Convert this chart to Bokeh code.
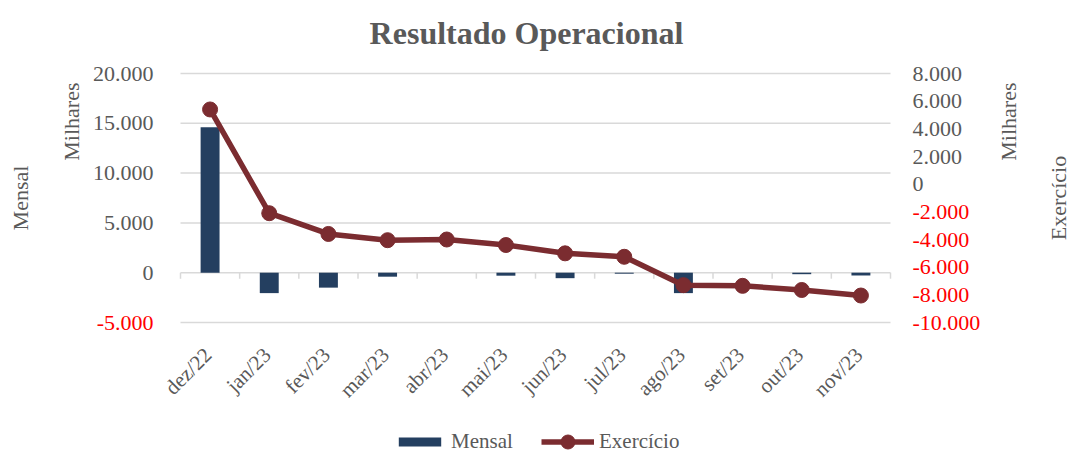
from math import pi
from bokeh.plotting import figure
from bokeh.models import Range1d, Legend, LegendItem
from bokeh.core.properties import value
from bokeh.embed import file_html
from bokeh.resources import INLINE

# ---- data ----
titulo = "Resultado Operacional"
meses = ["dez/22", "jan/23", "fev/23", "mar/23", "abr/23", "mai/23",
         "jun/23", "jul/23", "ago/23", "set/23", "out/23", "nov/23"]
mensal = [14600, -2050, -1500, -400, 0, -300, -550, -100, -2050, 0, -150, -280]
exercicio = [5400, -2100, -3600, -4050, -4000, -4400, -5000, -5250, -7300, -7350, -7650, -8050]
ticks_mensal = [-5000, 0, 5000, 10000, 15000, 20000]
ticks_exercicio = [-10000, -8000, -6000, -4000, -2000, 0, 2000, 4000, 6000, 8000]

FONT = "Liberation Serif"
GRAY = "#595959"
RED = "#ff0000"
NAVY = "#243f60"
MAROON = "#7b2c30"
GRID = "#d9d9d9"


def fmt(v):
    return f"{v:,}".replace(",", ".")


# ---- layout (pixels) ----
W, H = 1070, 456
PL, PR = 180, 890        # plotting area left/right
PT, PB = 73, 322         # plotting area top/bottom
TITLE_CX, TITLE_BASE = 526, 32

n = len(meses)
xs = list(range(n))
x_lo, x_hi = -0.5, n - 0.5
pitch = (PR - PL) / n
y_lo, y_hi = ticks_mensal[0], ticks_mensal[-1]
y2_lo, y2_hi = ticks_exercicio[0], ticks_exercicio[-1]
upp = (y_hi - y_lo) / (PB - PT)
upp2 = (y2_hi - y2_lo) / (PB - PT)

# the frame covers the whole canvas; the plotting area sits inside it
p = figure(frame_width=W, frame_height=H, output_backend="svg",
           toolbar_location=None, x_axis_location=None, y_axis_location=None,
           x_range=Range1d(x_lo - PL / pitch, x_hi + (W - PR) / pitch),
           y_range=Range1d(y_lo - (H - PB) * upp, y_hi + PT * upp),
           min_border=0, outline_line_color=None)
p.extra_y_ranges = {"ex": Range1d(y2_lo - (H - PB) * upp2, y2_hi + PT * upp2)}
p.grid.visible = False

TXT = dict(text_font=value(FONT), text_color=GRAY)

# title
p.text(x=[x_lo + (TITLE_CX - PL) / pitch], y=[y_hi + (PT - TITLE_BASE) * upp],
       text=[titulo], text_align="center", text_baseline="alphabetic",
       text_font_size="32px", text_font_style="bold", **TXT)

# horizontal gridlines of the left (Mensal) scale
p.segment(x0=[x_lo] * len(ticks_mensal), y0=ticks_mensal,
          x1=[x_hi] * len(ticks_mensal), y1=ticks_mensal,
          line_color=GRID, line_width=1.5)

# category boundary ticks on the zero line
bounds = [x_lo + i for i in range(n + 1)]
p.segment(x0=bounds, y0=[0] * len(bounds), x1=bounds, y1=[-6 * upp] * len(bounds),
          line_color=GRID, line_width=1.5)

# y tick labels (negative ones in red)
TICK_FS = "22px"
p.text(x=[x_lo] * len(ticks_mensal), y=ticks_mensal,
       text=[fmt(t) for t in ticks_mensal],
       text_color=[RED if t < 0 else GRAY for t in ticks_mensal],
       x_offset=-27, text_align="right", text_baseline="middle",
       text_font=value(FONT), text_font_size=TICK_FS)
p.text(x=[x_hi] * len(ticks_exercicio), y=ticks_exercicio,
       text=[fmt(t) for t in ticks_exercicio],
       text_color=[RED if t < 0 else GRAY for t in ticks_exercicio],
       y_range_name="ex", x_offset=22, text_align="left", text_baseline="middle",
       text_font=value(FONT), text_font_size=TICK_FS)

# category labels, rotated 45 degrees
p.text(x=xs, y=[y_lo] * n, text=meses, angle=pi / 4, x_offset=-2, y_offset=29,
       text_align="right", text_baseline="middle", text_font_size="21px", **TXT)

# axis titles (vertical, reading upwards)
y_mid = (y_lo + y_hi) / 2
def vtext(x, y, xo, yo, text, align):
    p.text(x=[x], y=[y], text=[text], x_offset=xo, y_offset=yo, angle=pi / 2,
           text_align=align, text_baseline="middle", text_font_size="22px", **TXT)

vtext(x_lo, y_hi, -109, 9, "Milhares", "right")
vtext(x_lo, y_mid, -160, 0, "Mensal", "center")
vtext(x_hi, y_hi, 118, 9, "Milhares", "right")
vtext(x_hi, y_mid, 168, 0, "Exercício", "center")

# data
bars = p.vbar(x=xs, top=mensal, width=0.32, fill_color=NAVY, line_color=None)
line = p.line(xs, exercicio, y_range_name="ex", line_width=5.5, color=MAROON)
dots = p.scatter(xs, exercicio, y_range_name="ex", size=15, color=MAROON)

LEG = dict(orientation="horizontal", glyph_width=53, label_text_font=FONT,
           label_text_font_size="21px", label_text_color=GRAY,
           border_line_color=None, background_fill_alpha=0,
           label_standoff=5, padding=0, margin=0)
leg1 = Legend(items=[LegendItem(label="Mensal", renderers=[bars])],
              location=(393, 2), glyph_height=11, **LEG)
leg2 = Legend(items=[LegendItem(label="Exercício", renderers=[line, dots])],
              location=(541, -3), glyph_height=35, **LEG)
p.add_layout(leg1)
p.add_layout(leg2)

open("out.html", "w").write(file_html(p, INLINE))
